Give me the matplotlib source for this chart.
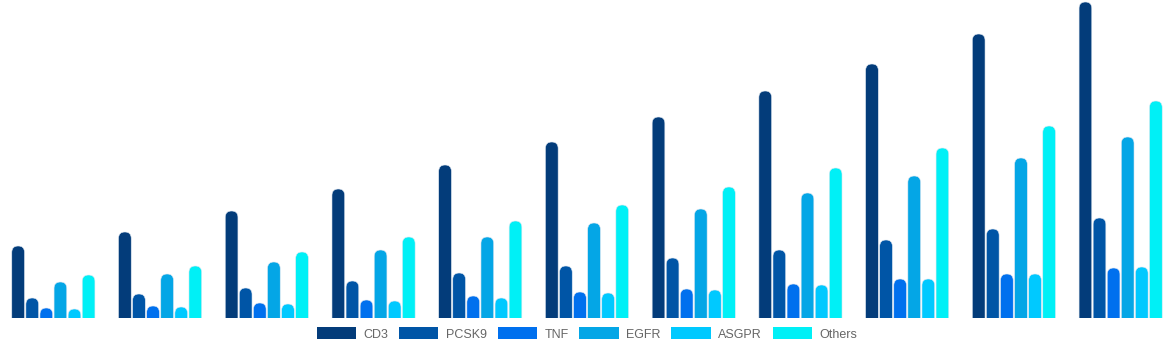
import matplotlib
matplotlib.use("Agg")
import matplotlib.pyplot as plt
import numpy as np
from matplotlib.patches import FancyBboxPatch

plt.rcParams["font.family"] = ["Liberation Sans", "DejaVu Sans"]

series = ["CD3", "PCSK9", "TNF", "EGFR", "ASGPR", "Others"]
colors = ["#033c7a", "#0055a6", "#0070ee", "#04a6e6", "#00c9ff", "#00f0f6"]

cd3 = [72, 86, 107, 129, 153, 176, 201, 227, 254, 284, 316]
pcsk9 = [20, 24, 30, 37, 45, 52, 60, 68, 78, 89, 100]
tnf = [10, 12, 15, 18, 22, 26, 29, 34, 39, 44, 50]
egfr = [36, 44, 56, 68, 81, 95, 109, 125, 142, 160, 181]
asgpr = [9, 11, 14, 17, 20, 25, 28, 33, 39, 44, 51]
others = [43, 52, 66, 81, 97, 113, 131, 150, 170, 192, 217]
values = [cd3, pcsk9, tnf, egfr, asgpr, others]

W, H = 1174, 350
fig = plt.figure(figsize=(W / 100, H / 100), dpi=100)
ax = fig.add_axes([0, 32 / H, 1, 318 / H])
ax.set_xlim(-0.5, 10.5)
ax.set_ylim(0, 318)
ax.axis("off")

x = np.arange(len(cd3))
pitch = 0.132
width = 0.119
px_x = 11 / W            # x data units per pixel
px_y = 1.0               # y data units per pixel
aspect = px_y / px_x

for k, (name, vals, c) in enumerate(zip(series, values, colors)):
    offs = (k - 2.5) * pitch
    bars = ax.bar(x + offs, vals, width=width, color=c, label=name)
    for b in bars:
        # swap the plain bar for a round-topped one (bottom is clipped at 0)
        b.set_visible(False)
        r = width / 2
        ry = r * aspect
        patch = FancyBboxPatch(
            (b.get_x(), -ry), b.get_width(), b.get_height() + ry,
            boxstyle=f"round,pad=0,rounding_size={r}",
            mutation_aspect=aspect,
            facecolor=c, edgecolor="#dfe8f2", linewidth=0.4,
        )
        ax.add_patch(patch)

handles = [plt.Rectangle((0, 0), 1, 1, facecolor=c, edgecolor="none") for c in colors]
fig.legend(
    handles, series,
    loc="center", bbox_to_anchor=(0.5, 1 - 334 / H),
    ncol=6, frameon=False, fontsize=9,
    handlelength=3.15, handleheight=1.05, handletextpad=0.6,
    columnspacing=0.85, borderpad=0, labelcolor="#666666",
)

fig.savefig("out.png", dpi=100)
